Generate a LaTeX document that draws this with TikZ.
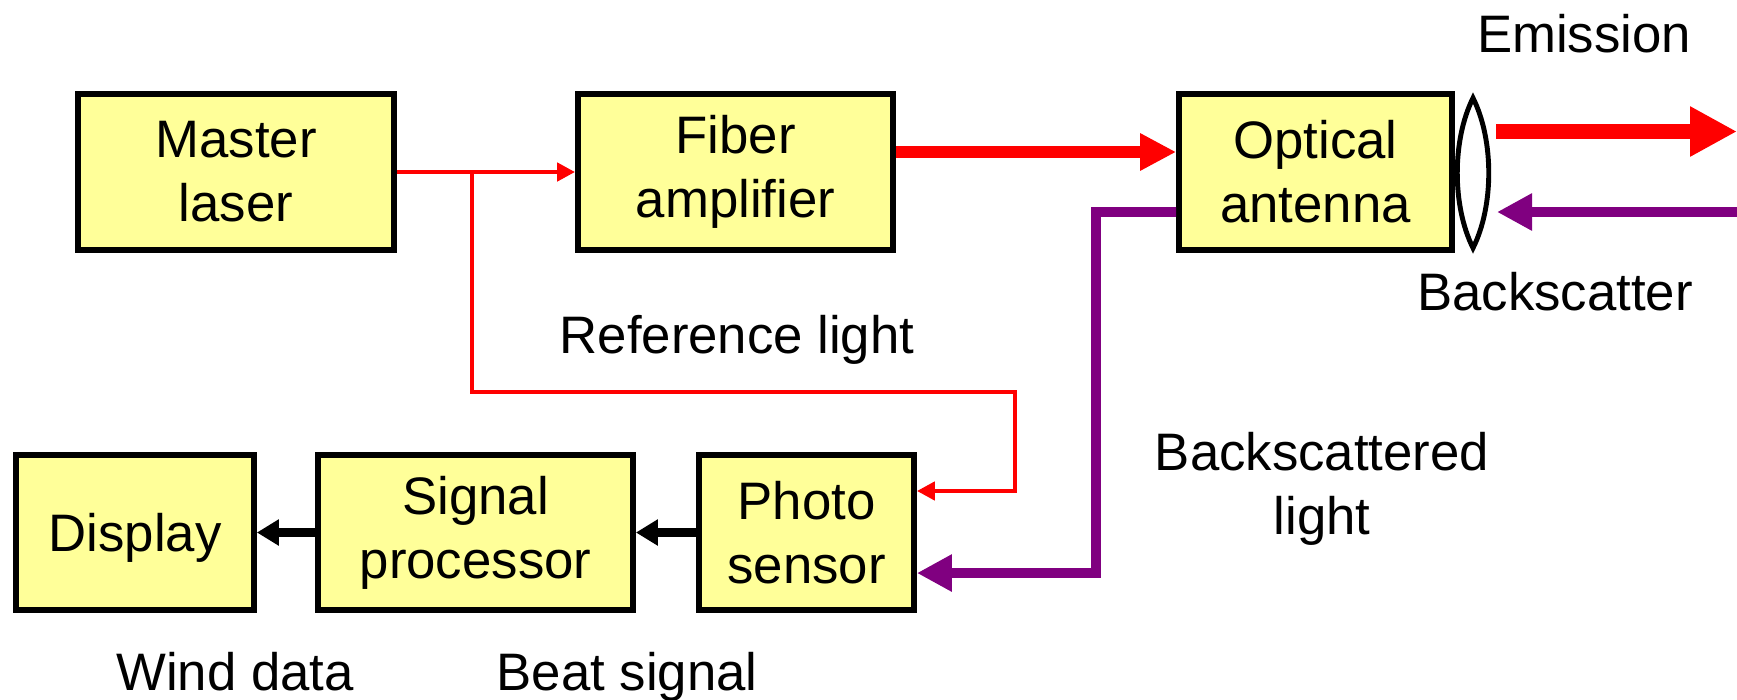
\documentclass[tikz,border=0pt]{standalone}
\usepackage{fontspec}
\setmainfont{Liberation Sans}
\usepackage{xcolor}
\usetikzlibrary{arrows.meta}

\definecolor{boxyellow}{RGB}{255,255,153}
\definecolor{bspurple}{RGB}{128,0,128}

\tikzset{
  block/.style={draw=black, line width=1.6pt, fill=boxyellow, align=center,
    inner sep=0pt, font=\fontsize{15}{18.2}\selectfont},
  lbl/.style={align=center, font=\fontsize{15}{18.2}\selectfont},
  refbeam/.style={red, line width=1.4pt, -{Triangle[length=0.18cm,width=0.18cm]}},
  powbeam/.style={red, line width=3.4pt, -{Triangle[length=0.36cm,width=0.35cm]}},
  bsbeam/.style={bspurple, line width=2.8pt, -{Triangle[length=0.35cm,width=0.35cm]}},
  sigarrow/.style={black, line width=2.5pt, -{Triangle[length=0.22cm,width=0.25cm]}},
}

\begin{document}
\begin{tikzpicture}[x=0.01cm,y=-0.01cm]
  \useasboundingbox (0,0) rectangle (1737,699);
  % blocks
  \node[block, minimum width=3.16cm, minimum height=1.56cm] (master) at (236,172) {Master\\laser};
  \node[block, minimum width=3.15cm, minimum height=1.56cm] (fiber) at (735.5,172) {Fiber\\amplifier};
  \node[block, minimum width=2.73cm, minimum height=1.56cm] (antenna) at (1315.5,172) {Optical\\antenna};
  \node[block, minimum width=2.38cm, minimum height=1.55cm, text depth=0pt] (display) at (135,532.5) {Display};
  \node[block, minimum width=3.15cm, minimum height=1.55cm] (processor) at (475.5,532.5) {Signal\\processor};
  \node[block, minimum width=2.15cm, minimum height=1.55cm] (sensor) at (806.5,532.5) {Photo\\sensor};

  % lens
  \draw[line width=1.4pt, fill=white] (1473,98) .. controls (1452,140) and (1452,206) .. (1473,248)
    .. controls (1494,206) and (1494,140) .. (1473,98) -- cycle;

  % light paths
  \coordinate (split) at (472,172);
  \coordinate (refturn) at (1015,392);
  \coordinate (bsturn) at (1096,573);
  \draw[refbeam] (master.east) -- (fiber.west);
  \draw[refbeam] (split) |- (refturn) |- ([yshift=0.415cm]sensor.east);
  \draw[powbeam] ([yshift=0.2cm]fiber.east) -- ([yshift=0.2cm]antenna.west);
  \draw[bsbeam] ([yshift=-0.4cm]antenna.west) -| (bsturn) -- ([yshift=-0.405cm]sensor.east);

  % outside
  \coordinate (emitA) at (1496,131.5);
  \coordinate (emitB) at (1737,131.5);
  \coordinate (backA) at (1737,212);
  \coordinate (backB) at (1497,212);
  \draw[red, line width=4.3pt, -{Triangle[length=0.47cm,width=0.47cm]}] (emitA) -- (emitB);
  \draw[bsbeam] (backA) -- (backB);

  % signals
  \draw[sigarrow] (sensor.west) -- (processor.east);
  \draw[sigarrow] (processor.west) -- (display.east);

  % labels
  \node[lbl, anchor=base] (emission) at (1584,52) {Emission};
  \node[lbl, anchor=base] (backscatter) at (1555,310) {Backscatter};
  \node[lbl, anchor=base] (reflight) at (737,353) {Reference light};
  \node[lbl] (bslight) at (1322,489) {Backscattered\\light};
  \node[lbl, anchor=base] (winddata) at (235,690) {Wind data};
  \node[lbl, anchor=base] (beatsignal) at (627,690) {Beat signal};
\end{tikzpicture}
\end{document}
